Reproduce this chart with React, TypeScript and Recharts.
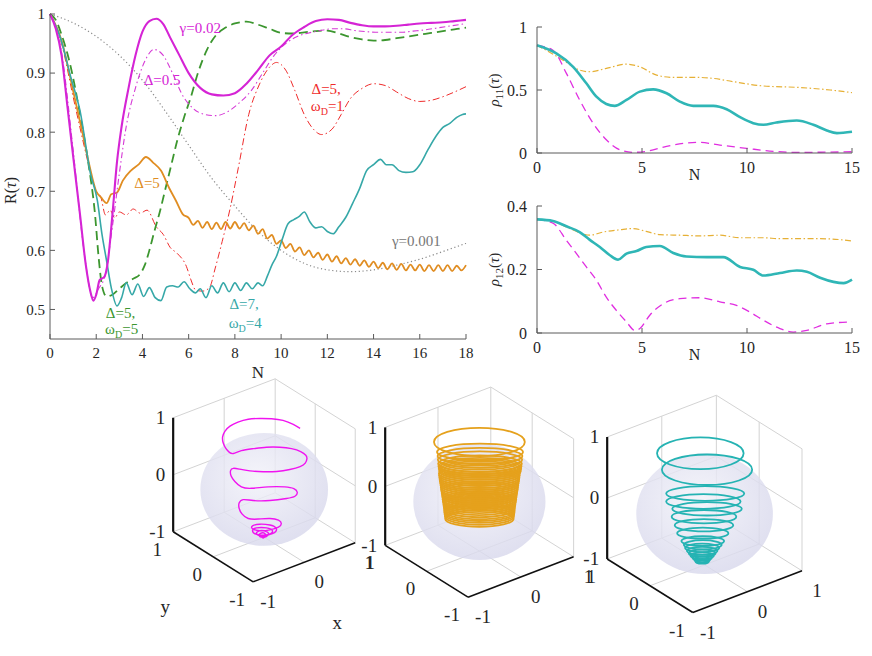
import React from 'react';
import { ComposedChart, Line, Scatter, XAxis, YAxis } from 'recharts';

const FONT = '"Liberation Serif", "Times New Roman", "DejaVu Serif", serif';
const AXIS = '#5a5a5a';
const INK = '#262626';

// ---------- R(tau) versus N ----------
const rTicksX = [0, 2, 4, 6, 8, 10, 12, 14, 16, 18];
const rTicksY = [0.5, 0.6, 0.7, 0.8, 0.9, 1];

const rGamma001: [number, number][] = [
  [0, 1], [1, 0.985], [2, 0.962], [3, 0.93], [4, 0.888], [5, 0.835], [6, 0.778], [7, 0.722],
  [8, 0.675], [9, 0.632], [10, 0.6], [11, 0.578], [12, 0.567], [13, 0.564], [14, 0.567],
  [15, 0.575], [16, 0.585], [17, 0.598], [18, 0.612],
];

const rRedD5W1: [number, number][] = [
  [0, 1], [0.5, 0.95], [1.0, 0.86], [1.4, 0.79], [1.7, 0.74], [2.0, 0.7], [2.2, 0.69], [2.4, 0.66],
  [2.6, 0.668], [2.8, 0.655], [3.0, 0.665], [3.3, 0.66], [3.6, 0.67], [3.9, 0.663], [4.2, 0.668],
  [4.6, 0.64], [4.9, 0.627], [5.2, 0.605], [5.5, 0.595], [5.9, 0.573], [6.1, 0.55], [6.3, 0.533],
  [6.6, 0.531], [6.9, 0.537], [7.15, 0.57], [7.45, 0.615], [7.8, 0.672], [8.15, 0.74], [8.6, 0.83],
  [9.05, 0.88], [9.5, 0.91], [9.8, 0.918], [10.2, 0.905], [10.6, 0.87], [11.0, 0.83], [11.4, 0.805],
  [11.75, 0.796], [12.2, 0.805], [12.6, 0.83], [13.0, 0.857], [13.5, 0.874], [14.0, 0.882],
  [14.5, 0.879], [15.0, 0.868], [15.5, 0.857], [16.0, 0.852], [16.5, 0.854], [17.0, 0.86],
  [17.5, 0.868], [18, 0.877],
];

const rGreenD5W5: [number, number][] = [
  [0, 1], [0.25, 0.99], [0.5, 0.965], [0.9, 0.91], [1.3, 0.83], [1.65, 0.75], [1.95, 0.66],
  [2.1, 0.59], [2.25, 0.54], [2.45, 0.522], [2.7, 0.525], [3.0, 0.535], [3.3, 0.545], [3.6, 0.552],
  [3.9, 0.56], [4.1, 0.575], [4.3, 0.6], [4.5, 0.63], [4.75, 0.665], [5.0, 0.705], [5.25, 0.745],
  [5.5, 0.785], [5.8, 0.825], [6.1, 0.86], [6.4, 0.9], [6.8, 0.94], [7.2, 0.965], [7.6, 0.977],
  [8.0, 0.984], [8.5, 0.987], [9.0, 0.982], [9.5, 0.975], [10, 0.968], [10.5, 0.967], [11, 0.969],
  [11.5, 0.971], [12, 0.972], [12.5, 0.967], [13, 0.961], [13.5, 0.957], [14, 0.955], [14.5, 0.956],
  [15, 0.959], [15.5, 0.962], [16, 0.965], [16.5, 0.968], [17, 0.971], [17.5, 0.974], [18, 0.977],
];

const rOrangeD5: [number, number][] = [
  [0, 1], [0.5, 0.955], [1.0, 0.87], [1.4, 0.8], [1.7, 0.745], [2.0, 0.7], [2.2, 0.69], [2.45, 0.68],
  [2.65, 0.695], [2.9, 0.698], [3.15, 0.718], [3.5, 0.735], [3.85, 0.746], [4.15, 0.758], [4.45, 0.749],
  [4.8, 0.735], [5.15, 0.706], [5.45, 0.684], [5.75, 0.661], [6.0, 0.655], [6.2, 0.643], [6.4, 0.65],
  [6.6, 0.638], [6.8, 0.648], [7.0, 0.636], [7.2, 0.647], [7.4, 0.636], [7.6, 0.648], [7.8, 0.637],
  [8.0, 0.648], [8.2, 0.637], [8.4, 0.646], [8.6, 0.634], [8.8, 0.642], [9.0, 0.628], [9.2, 0.636],
  [9.4, 0.62], [9.6, 0.626], [9.8, 0.611], [10.0, 0.617], [10.2, 0.604], [10.4, 0.611], [10.6, 0.598],
  [10.8, 0.605], [11.0, 0.592], [11.2, 0.6], [11.4, 0.588], [11.6, 0.596], [11.8, 0.584], [12.0, 0.593],
  [12.2, 0.581], [12.4, 0.59], [12.6, 0.578], [12.8, 0.587], [13.0, 0.576], [13.2, 0.585], [13.4, 0.574],
  [13.6, 0.583], [13.8, 0.572], [14.0, 0.581], [14.2, 0.57], [14.4, 0.579], [14.6, 0.568], [14.8, 0.578],
  [15.0, 0.567], [15.2, 0.577], [15.4, 0.566], [15.6, 0.576], [15.8, 0.566], [16.0, 0.576], [16.2, 0.565],
  [16.4, 0.575], [16.6, 0.565], [16.8, 0.575], [17.0, 0.565], [17.2, 0.575], [17.4, 0.565], [17.6, 0.574],
  [17.8, 0.566], [18.0, 0.575],
];

const rCyanD7W4: [number, number][] = [
  [0, 1], [0.45, 0.96], [0.9, 0.893], [1.3, 0.836], [1.75, 0.73], [2.05, 0.684], [2.25, 0.627],
  [2.45, 0.582], [2.65, 0.537], [2.9, 0.506], [3.1, 0.52], [3.3, 0.545], [3.55, 0.525], [3.8, 0.543],
  [4.05, 0.522], [4.3, 0.537], [4.55, 0.52], [4.8, 0.515], [5.05, 0.538], [5.3, 0.54], [5.55, 0.538],
  [5.8, 0.547], [6.05, 0.535], [6.3, 0.528], [6.5, 0.535], [6.75, 0.52], [7.0, 0.54], [7.25, 0.528],
  [7.5, 0.545], [7.75, 0.53], [8.0, 0.545], [8.25, 0.532], [8.5, 0.545], [8.75, 0.535], [9.0, 0.545],
  [9.2, 0.54], [9.4, 0.556], [9.6, 0.575], [9.8, 0.59], [10.05, 0.619], [10.3, 0.645], [10.55, 0.652],
  [10.8, 0.658], [11.0, 0.665], [11.25, 0.648], [11.5, 0.638], [11.75, 0.64], [12.0, 0.632],
  [12.25, 0.628], [12.5, 0.64], [12.8, 0.656], [13.1, 0.68], [13.4, 0.705], [13.7, 0.735], [14.0, 0.745],
  [14.3, 0.754], [14.55, 0.745], [14.8, 0.745], [15.1, 0.735], [15.4, 0.732], [15.7, 0.733], [16.0, 0.745],
  [16.35, 0.77], [16.7, 0.793], [17.0, 0.808], [17.3, 0.815], [17.6, 0.825], [17.85, 0.83], [18, 0.831],
];

const rMagentaD05: [number, number][] = [
  [0, 1], [0.5, 0.935], [1.0, 0.77], [1.5, 0.59], [1.85, 0.52], [2.1, 0.535], [2.4, 0.56], [2.7, 0.64],
  [3.0, 0.73], [3.3, 0.81], [3.7, 0.875], [4.1, 0.92], [4.5, 0.94], [4.9, 0.93], [5.3, 0.9], [5.7, 0.865],
  [6.2, 0.84], [6.7, 0.83], [7.2, 0.828], [7.7, 0.835], [8.2, 0.85], [8.7, 0.87], [9.2, 0.9], [9.7, 0.93],
  [10.2, 0.95], [10.7, 0.962], [11.2, 0.968], [11.7, 0.972], [12.2, 0.975], [12.7, 0.975], [13.2, 0.972],
  [13.7, 0.97], [14.2, 0.969], [14.7, 0.969], [15.2, 0.969], [15.7, 0.971], [16.2, 0.973], [16.7, 0.976],
  [17.2, 0.979], [17.7, 0.982], [18, 0.984],
];

const rMagentaG002: [number, number][] = [
  [0, 1], [0.25, 0.975], [0.5, 0.93], [0.75, 0.845], [1.0, 0.76], [1.3, 0.66], [1.55, 0.575],
  [1.75, 0.53], [1.88, 0.515], [2.0, 0.525], [2.15, 0.55], [2.35, 0.555], [2.5, 0.58], [2.7, 0.66],
  [2.9, 0.75], [3.1, 0.81], [3.4, 0.875], [3.7, 0.93], [4.0, 0.97], [4.3, 0.988], [4.6, 0.992],
  [4.9, 0.983], [5.2, 0.96], [5.6, 0.93], [6.0, 0.9], [6.5, 0.875], [7.0, 0.864], [7.5, 0.862],
  [8.0, 0.866], [8.5, 0.882], [9.0, 0.905], [9.5, 0.93], [10, 0.945], [10.5, 0.965], [11, 0.978],
  [11.5, 0.988], [12, 0.991], [12.5, 0.99], [13, 0.985], [13.5, 0.981], [14, 0.979], [14.5, 0.979],
  [15, 0.98], [15.5, 0.982], [16, 0.984], [16.5, 0.985], [17, 0.986], [17.5, 0.988], [18, 0.99],
];

// annotations inside the R(tau) panel
const rNotes = [
  { n: 6.5, r: 0.977, pre: 'γ=0.02', who: 'magenta' },
  { n: 4.85, r: 0.889, pre: 'Δ=0.5', who: 'magenta' },
  { n: 11.95, r: 0.873, pre: 'Δ=5,', who: 'red' },
  { n: 12.0, r: 0.845, pre: 'ω', sub: 'D', post: '=1', who: 'red' },
  { n: 4.2, r: 0.714, pre: 'Δ=5', who: 'orange' },
  { n: 15.85, r: 0.617, pre: 'γ=0.001', who: 'gray' },
  { n: 3.05, r: 0.494, pre: 'Δ=5,', who: 'green' },
  { n: 3.1, r: 0.467, pre: 'ω', sub: 'D', post: '=5', who: 'green' },
  { n: 8.4, r: 0.509, pre: 'Δ=7,', who: 'cyan' },
  { n: 8.45, r: 0.478, pre: 'ω', sub: 'D', post: '=4', who: 'cyan' },
];

// ---------- rho_11 and rho_12 ----------
const rhoTicksX = [0, 5, 10, 15];
const rho11TicksY = [0, 0.5, 1];
const rho12TicksY = [0, 0.2, 0.4];

const rho11Orange: [number, number][] = [
  [0, 0.855], [0.6, 0.8], [1.24, 0.737], [2.03, 0.658], [2.5, 0.645], [3.3, 0.671], [4.26, 0.705],
  [4.9, 0.684], [5.7, 0.618], [6.5, 0.6], [7.6, 0.6], [8.4, 0.592], [9.35, 0.566], [10.78, 0.532],
  [12.37, 0.521], [13.96, 0.5], [15, 0.479],
];
const rho11Cyan: [number, number][] = [
  [0, 0.855], [0.92, 0.79], [1.72, 0.684], [2.35, 0.553], [2.83, 0.447], [3.3, 0.389], [3.7, 0.374],
  [4.26, 0.421], [4.9, 0.487], [5.53, 0.505], [6.17, 0.474], [6.8, 0.408], [7.44, 0.374], [8.4, 0.374],
  [9.03, 0.347], [9.67, 0.284], [10.3, 0.237], [10.78, 0.224], [11.4, 0.242], [12.37, 0.258],
  [13.16, 0.224], [13.8, 0.179], [14.28, 0.158], [15, 0.168],
];
const rho11Magenta: [number, number][] = [
  [0, 0.855], [0.76, 0.816], [1.4, 0.632], [2.03, 0.421], [2.67, 0.237], [3.3, 0.105], [3.94, 0.026],
  [4.58, 0.005], [5.2, 0.013], [6.17, 0.053], [7.12, 0.079], [7.76, 0.084], [8.71, 0.063], [9.98, 0.037],
  [11.26, 0.013], [12.37, 0.005], [13.5, 0.006], [15, 0.01],
];

const rho12Orange: [number, number][] = [
  [0, 0.358], [0.76, 0.353], [1.4, 0.334], [2.03, 0.316], [2.5, 0.308], [3.15, 0.318], [3.94, 0.325],
  [4.58, 0.329], [5.2, 0.32], [5.85, 0.31], [6.8, 0.308], [7.76, 0.306], [8.71, 0.308], [9.67, 0.3],
  [10.78, 0.3], [11.57, 0.297], [12.53, 0.297], [13.48, 0.297], [14.44, 0.294], [15, 0.29],
];
const rho12Cyan: [number, number][] = [
  [0, 0.358], [0.76, 0.353], [1.4, 0.336], [2.03, 0.318], [2.5, 0.294], [2.99, 0.271], [3.47, 0.245],
  [3.86, 0.231], [4.26, 0.25], [4.74, 0.258], [5.2, 0.271], [5.85, 0.274], [6.49, 0.252], [7.12, 0.241],
  [8.08, 0.239], [8.87, 0.239], [9.67, 0.208], [10.3, 0.199], [10.78, 0.181], [11.57, 0.189],
  [12.37, 0.197], [12.85, 0.193], [13.48, 0.174], [14.12, 0.161], [14.6, 0.157], [15, 0.168],
];
const rho12Magenta: [number, number][] = [
  [0, 0.358], [0.76, 0.346], [1.4, 0.292], [1.88, 0.25], [2.35, 0.208], [2.83, 0.166], [3.3, 0.113],
  [3.78, 0.071], [4.26, 0.035], [4.66, 0.008], [4.9, 0.014], [5.37, 0.056], [6.01, 0.092], [6.8, 0.108],
  [7.76, 0.111], [8.71, 0.098], [9.5, 0.087], [10.14, 0.066], [10.78, 0.04], [11.57, 0.014],
  [12.2, 0.003], [12.85, 0.008], [13.8, 0.029], [15, 0.035],
];

// ---------- Bloch spheres ----------
// screen directions of the unit x, y, z axes in the 3-D views (units of the z half-length)
const viewX = [0.895, 0.342];
const viewY = [-0.702, 0.439];
const viewZ = [0, 1];
const cubeTicks = [-1, 0, 1];

// trajectory of the first sphere, traced in projected (u, v) coordinates
const trajMagenta: [number, number][] = [
  [0.63, 0.91], [0.51, 0.98], [0.33, 1.05], [0.13, 1.08], [-0.08, 1.085], [-0.28, 1.07], [-0.46, 1.02],
  [-0.6, 0.95], [-0.69, 0.86], [-0.73, 0.76], [-0.72, 0.66], [-0.67, 0.555], [-0.61, 0.49], [-0.54, 0.47],
  [-0.4, 0.52], [-0.19, 0.555], [0.04, 0.58], [0.275, 0.58], [0.48, 0.555], [0.64, 0.505], [0.73, 0.44],
  [0.75, 0.38], [0.72, 0.3], [0.63, 0.24], [0.45, 0.19], [0.22, 0.155], [-0.02, 0.15], [-0.25, 0.165],
  [-0.43, 0.195], [-0.54, 0.21], [-0.59, 0.17], [-0.58, 0.075], [-0.515, -0.02], [-0.4, -0.115],
  [-0.22, -0.14], [0.07, -0.115], [0.36, -0.115], [0.52, -0.146], [0.58, -0.21], [0.54, -0.28],
  [0.39, -0.32], [0.1, -0.355], [-0.19, -0.355], [-0.37, -0.34], [-0.44, -0.4], [-0.44, -0.49],
  [-0.39, -0.59], [-0.28, -0.67], [-0.105, -0.68], [0.1, -0.67], [0.25, -0.7], [0.3, -0.76], [0.25, -0.82],
  [0.1, -0.87], [-0.08, -0.885], [-0.205, -0.85], [-0.205, -0.8], [-0.08, -0.77], [0.1, -0.785],
  [0.205, -0.835], [0.19, -0.91], [0.04, -0.96], [-0.135, -0.95], [-0.205, -0.885], [-0.135, -0.835],
  [0.04, -0.835], [0.146, -0.885], [0.088, -0.95], [-0.047, -0.975], [-0.135, -0.935], [-0.08, -0.885],
  [0.04, -0.9], [0.07, -0.96], [-0.03, -1.0], [-0.09, -0.96], [-0.02, -0.92], [0.03, -0.975], [-0.03, -1.02],
];

// turns of the second and third trajectories: centre (u, v) and half-widths (ru, rv)
const turnsOrange: [number, number, number, number][] = [
  [0.0, 0.85, 0.77, 0.24], [0.01, 0.68, 0.73, 0.14], [0.01, 0.61, 0.72, 0.14], [0.01, 0.55, 0.715, 0.14],
  [0.01, 0.48, 0.71, 0.14], [0.01, 0.44, 0.705, 0.14], [0.01, 0.41, 0.7, 0.14], [0.01, 0.38, 0.695, 0.14],
  [0.01, 0.35, 0.69, 0.14], [0.0, 0.315, 0.687, 0.14], [0.0, 0.28, 0.685, 0.14], [0.0, 0.245, 0.68, 0.14],
  [0.0, 0.21, 0.675, 0.14], [0.0, 0.18, 0.67, 0.14], [0.0, 0.15, 0.665, 0.14], [0.0, 0.115, 0.66, 0.14],
  [0.0, 0.08, 0.655, 0.14], [0.0, 0.045, 0.65, 0.14], [0.0, 0.02, 0.645, 0.14], [0.0, -0.015, 0.64, 0.14],
  [0.0, -0.05, 0.635, 0.14], [0.0, -0.085, 0.63, 0.14], [0.0, -0.12, 0.625, 0.14], [0.0, -0.15, 0.62, 0.14],
  [0.0, -0.18, 0.615, 0.14], [0.0, -0.215, 0.61, 0.14], [0.0, -0.25, 0.605, 0.14], [0.0, -0.285, 0.6, 0.14],
  [0.0, -0.32, 0.597, 0.14], [0.0, -0.35, 0.594, 0.14], [0.0, -0.38, 0.59, 0.14], [0.0, -0.415, 0.585, 0.14],
  [0.0, -0.45, 0.58, 0.14],
];
const turnsCyan: [number, number, number, number][] = [
  [-0.07, 0.83, 0.71, 0.26], [0.04, 0.56, 0.74, 0.25], [0.01, 0.17, 0.64, 0.12], [-0.02, 0.04, 0.61, 0.12],
  [0.04, -0.08, 0.57, 0.11], [-0.01, -0.21, 0.53, 0.11], [-0.01, -0.35, 0.48, 0.1], [-0.03, -0.48, 0.42, 0.09],
  [-0.03, -0.61, 0.35, 0.08], [-0.03, -0.67, 0.31, 0.075], [-0.04, -0.72, 0.28, 0.07], [-0.04, -0.77, 0.25, 0.065],
  [-0.04, -0.81, 0.22, 0.06], [-0.04, -0.85, 0.19, 0.055], [-0.04, -0.88, 0.16, 0.05], [-0.04, -0.91, 0.13, 0.045],
  [-0.04, -0.94, 0.11, 0.04],
];

const COLORS: Record<string, string> = {
  magenta: '#d524d5',
  red: '#ef2b2b',
  green: '#3c962f',
  orange: '#e08d22',
  cyan: '#36a8a8',
  gray: '#777777',
};

const toNR = (a: [number, number][]) => a.map(([n, r]) => ({ n, r }));
const toUV = (a: [number, number][]) => a.map(([u, v]) => ({ u, v }));

const project = (x: number, y: number, z: number) => ({
  u: viewX[0] * x + viewY[0] * y + viewZ[0] * z,
  v: viewX[1] * x + viewY[1] * y + viewZ[1] * z,
});

const tickStyle = (size: number) => ({ fill: INK, fontSize: size, fontFamily: FONT });

function Note(props: any) {
  const { cx, cy, payload } = props;
  const color = COLORS[payload.who];
  return (
    <text x={cx} y={cy} dy="0.35em" textAnchor="middle" fill={color} fontSize={15} fontFamily={FONT}>
      {payload.pre}
      {payload.sub && (
        <tspan fontSize={10} dy={4}>
          {payload.sub}
        </tspan>
      )}
      {payload.post && <tspan dy={-4}>{payload.post}</tspan>}
    </text>
  );
}

function RChart() {
  const series = [
    { data: rGamma001, color: '#8a8a8a', width: 1.2, dash: '1.2 2.6' },
    { data: rRedD5W1, color: COLORS.red, width: 1, dash: '7 3 1.5 3' },
    { data: rGreenD5W5, color: COLORS.green, width: 1.8, dash: '9 5' },
    { data: rOrangeD5, color: COLORS.orange, width: 1.8 },
    { data: rCyanD7W4, color: COLORS.cyan, width: 1.6 },
    { data: rMagentaD05, color: '#d63ad6', width: 1.1, dash: '6 3 1.5 3' },
    { data: rMagentaG002, color: COLORS.magenta, width: 2.1 },
  ];
  return (
    <ComposedChart width={480} height={385} margin={{ top: 14, right: 14, bottom: 16, left: 10 }}>
      <XAxis
        xAxisId="b" dataKey="n" type="number" domain={[0, 18]} ticks={rTicksX} interval={0}
        tickSize={-5} tickMargin={13} height={30} stroke={AXIS} tick={tickStyle(15)}
        label={{
          content: (p: any) => (
            <text x={p.viewBox.x + p.viewBox.width / 2} y={p.viewBox.y + p.viewBox.height + 9}
              textAnchor="middle" fontSize={17} fontFamily={FONT} fill={INK}>N</text>
          ),
        }}
      />
      <XAxis xAxisId="t" orientation="top" type="number" domain={[0, 18]} ticks={rTicksX} interval={0}
        tick={false} tickSize={-5} height={0} stroke={AXIS} />
      <YAxis
        yAxisId="l" dataKey="r" type="number" domain={[0.45, 1]} ticks={rTicksY} interval={0}
        tickSize={-5} tickMargin={10} width={40} stroke={AXIS} tick={tickStyle(15)}
        label={{
          content: (p: any) => {
            const x = p.viewBox.x + 6;
            const y = p.viewBox.y + p.viewBox.height / 2 + 14;
            return (
              <text x={x} y={y} transform={`rotate(-90 ${x} ${y})`} textAnchor="middle" fontSize={16}
                fontFamily={FONT} fill={INK}>
                R(<tspan fontStyle="italic">τ</tspan>)
              </text>
            );
          },
        }}
      />
      <YAxis yAxisId="r" orientation="right" type="number" domain={[0.45, 1]} ticks={rTicksY} interval={0}
        tick={false} tickSize={-5} width={0} stroke={AXIS} />
      {series.map((s, i) => (
        <Line key={i} xAxisId="b" yAxisId="l" data={toNR(s.data)} dataKey="r" type="monotone"
          stroke={s.color} strokeWidth={s.width} strokeDasharray={s.dash} dot={false} activeDot={false}
          isAnimationActive={false} />
      ))}
      <Scatter xAxisId="b" yAxisId="l" data={rNotes} shape={Note} isAnimationActive={false} />
    </ComposedChart>
  );
}

function RhoChart(props: {
  height: number; top: number; bottom: number; ticksY: number[]; sub: string;
  orange: [number, number][]; cyan: [number, number][]; magenta: [number, number][];
}) {
  const { height, top, bottom, ticksY, sub } = props;
  const dom = [ticksY[0], ticksY[ticksY.length - 1]];
  return (
    <ComposedChart width={392} height={height} margin={{ top, right: 20, bottom, left: 17 }}>
      <XAxis
        xAxisId="b" dataKey="n" type="number" domain={[0, 15]} ticks={rhoTicksX} interval={0}
        tickSize={-5} tickMargin={14} height={30} stroke={AXIS} tick={tickStyle(16)}
        label={{
          content: (p: any) => (
            <text x={p.viewBox.x + p.viewBox.width / 2} y={p.viewBox.y + p.viewBox.height - 3}
              textAnchor="middle" fontSize={16} fontFamily={FONT} fill={INK}>N</text>
          ),
        }}
      />
      <XAxis xAxisId="t" orientation="top" type="number" domain={[0, 15]} ticks={rhoTicksX} interval={0}
        tick={false} tickSize={-5} height={0} stroke={AXIS} />
      <YAxis
        yAxisId="l" dataKey="r" type="number" domain={dom} ticks={ticksY} interval={0}
        tickSize={-5} tickMargin={15} width={40} stroke={AXIS} tick={tickStyle(16)}
        label={{
          content: (p: any) => {
            const x = p.viewBox.x + 2;
            const y = p.viewBox.y + p.viewBox.height / 2;
            return (
              <text x={x} y={y} transform={`rotate(-90 ${x} ${y})`} textAnchor="middle" fontSize={15}
                fontFamily={FONT} fill={INK}>
                <tspan fontStyle="italic">ρ</tspan>
                <tspan fontSize={11} dy={4}>{sub}</tspan>
                <tspan dy={-4}>(</tspan>
                <tspan fontStyle="italic">τ</tspan>
                <tspan>)</tspan>
              </text>
            );
          },
        }}
      />
      <YAxis yAxisId="r" orientation="right" type="number" domain={dom} ticks={ticksY} interval={0}
        tick={false} tickSize={-5} width={0} stroke={AXIS} />
      <Line xAxisId="b" yAxisId="l" data={toNR(props.orange)} dataKey="r" type="monotone" stroke="#e6b035"
        strokeWidth={1.2} strokeDasharray="6 2.5 1.5 2.5" dot={false} activeDot={false} isAnimationActive={false} />
      <Line xAxisId="b" yAxisId="l" data={toNR(props.magenta)} dataKey="r" type="monotone" stroke="#e02ee0"
        strokeWidth={1.3} strokeDasharray="8 5" dot={false} activeDot={false} isAnimationActive={false} />
      <Line xAxisId="b" yAxisId="l" data={toNR(props.cyan)} dataKey="r" type="monotone" stroke="#2fb6b6"
        strokeWidth={2.6} dot={false} activeDot={false} isAnimationActive={false} />
    </ComposedChart>
  );
}

const cubeGrid: [number[], number[]][] = [
  [[0, 1, -1], [0, 1, 1]], [[1, 1, -1], [1, 1, 1]], [[-1, 1, 0], [1, 1, 0]], [[-1, 1, 1], [1, 1, 1]],
  [[-1, 1, -1], [1, 1, -1]], [[1, 0, -1], [1, 0, 1]], [[1, -1, -1], [1, -1, 1]], [[1, -1, 0], [1, 1, 0]],
  [[1, -1, 1], [1, 1, 1]], [[1, -1, -1], [1, 1, -1]], [[0, -1, -1], [0, 1, -1]], [[-1, 0, -1], [1, 0, -1]],
];
const cubeAxes: [number[], number[]][] = [
  [[-1, 1, -1], [-1, 1, 1]], [[-1, 1, -1], [-1, -1, -1]], [[-1, -1, -1], [1, -1, -1]],
];

const LABEL_OFFSET: Record<string, [number, number, string]> = {
  z: [-8, 6.5, 'end'],
  y: [-16, 24, 'middle'],
  x: [15, 26, 'middle'],
  ty: [-48, 56, 'middle'],
  tx: [33, 67, 'middle'],
};

function CubeLabel(props: any) {
  const { cx, cy, payload } = props;
  const [dx, dy, anchor] = LABEL_OFFSET[payload.kind];
  return (
    <text x={cx + dx} y={cy + dy} textAnchor={anchor} fontSize={19} fontFamily={FONT} fill={INK}>
      {payload.text}
    </text>
  );
}

const U_DOM = [-2.6, 2.6];
const V_DOM = [-2.7, 1.9];

function PanelFrame(props: { s: number; children: React.ReactNode }) {
  const { s } = props;
  return (
    <div style={{ position: 'absolute', left: 0, top: 0 }}>
      <ComposedChart width={(U_DOM[1] - U_DOM[0]) * s} height={(V_DOM[1] - V_DOM[0]) * s}
        margin={{ top: 0, right: 0, bottom: 0, left: 0 }}>
        <XAxis dataKey="u" type="number" domain={U_DOM} hide />
        <YAxis dataKey="v" type="number" domain={V_DOM} hide />
        {props.children}
      </ComposedChart>
    </div>
  );
}

function BlochPanel(props: {
  cx: number; cy: number; s: number; color: string; id: string; titles?: boolean;
  path?: [number, number][]; turns?: [number, number, number, number][];
}) {
  const { cx, cy, s, color, id } = props;
  const labels: any[] = [
    ...cubeTicks.map((t) => ({ ...project(-1, 1, t), text: String(t), kind: 'z' })),
    ...cubeTicks.map((t) => ({ ...project(-1, t, -1), text: String(t), kind: 'y' })),
    ...cubeTicks.map((t) => ({ ...project(t, -1, -1), text: String(t), kind: 'x' })),
  ];
  if (props.titles) {
    labels.push({ ...project(-1, 0, -1), text: 'y', kind: 'ty' });
    labels.push({ ...project(0, -1, -1), text: 'x', kind: 'tx' });
  }
  const seg = (a: number[], b: number[]) => [project(a[0], a[1], a[2]), project(b[0], b[1], b[2])];
  const turns = (props.turns || []).map(([u, v, ru, rv]) => ({ u, v, ru, rv }));
  return (
    <div style={{ position: 'absolute', left: cx + U_DOM[0] * s, top: cy - V_DOM[1] * s }}>
      {/* back layer: grid walls and the translucent sphere */}
      <PanelFrame s={s}>
        <defs>
          <radialGradient id={id} cx="45%" cy="40%" r="62%">
            <stop offset="0%" stopColor="#f2f2f9" />
            <stop offset="100%" stopColor="#d8d8ec" />
          </radialGradient>
        </defs>
        {cubeGrid.map(([a, b], i) => (
          <Line key={`g${i}`} data={seg(a, b)} dataKey="v" type="linear" stroke="#d3d3d3" strokeWidth={1}
            dot={false} activeDot={false} isAnimationActive={false} />
        ))}
        <Scatter data={[{ u: 0, v: -0.16 }]} isAnimationActive={false}
          shape={(p: any) => (
            <ellipse cx={p.cx} cy={p.cy} rx={1.12 * s} ry={0.99 * s} fill={`url(#${id})`} fillOpacity={0.82} />
          )} />
      </PanelFrame>
      {/* front layer: axes, trajectory, labels */}
      <PanelFrame s={s}>
        {cubeAxes.map(([a, b], i) => (
          <Line key={`a${i}`} data={seg(a, b)} dataKey="v" type="linear" stroke="#111" strokeWidth={i === 0 ? 2.2 : 1.6}
            dot={false} activeDot={false} isAnimationActive={false} />
        ))}
        {props.path && (
          <Line data={toUV(props.path)} dataKey="v" type="natural" stroke={color} strokeWidth={1.4}
            dot={false} activeDot={false} isAnimationActive={false} />
        )}
        {turns.length > 0 && (
          <Scatter data={turns} isAnimationActive={false}
            shape={(p: any) => (
              <ellipse cx={p.cx} cy={p.cy} rx={p.payload.ru * s} ry={p.payload.rv * s} fill="none"
                stroke={color} strokeWidth={1.8} />
            )} />
        )}
        <Scatter data={labels} shape={CubeLabel} isAnimationActive={false} />
      </PanelFrame>
    </div>
  );
}

export default function App() {
  return (
    <div style={{ position: 'relative', width: 872, height: 656, overflow: 'hidden', background: '#fff', fontFamily: FONT }}>
      <style>{'body{margin:0}'}</style>
      <div style={{ position: 'absolute', left: 0, top: 0 }}>
        <RChart />
      </div>
      <div style={{ position: 'absolute', left: 480, top: 0 }}>
        <RhoChart height={190} top={27} bottom={7} ticksY={rho11TicksY} sub="11"
          orange={rho11Orange} cyan={rho11Cyan} magenta={rho11Magenta} />
      </div>
      <div style={{ position: 'absolute', left: 480, top: 180 }}>
        <RhoChart height={200} top={26} bottom={17} ticksY={rho12TicksY} sub="12"
          orange={rho12Orange} cyan={rho12Cyan} magenta={rho12Magenta} />
      </div>
      <BlochPanel cx={264.3} cy={480.2} s={57} color="#f014f0" id="sph1" titles path={trajMagenta} />
      <BlochPanel cx={479.2} cy={491.7} s={59} color="#e5a11c" id="sph2" turns={turnsOrange} />
      <BlochPanel cx={704.4} cy={503.9} s={61} color="#25b3b3" id="sph3" turns={turnsCyan} />
    </div>
  );
}
